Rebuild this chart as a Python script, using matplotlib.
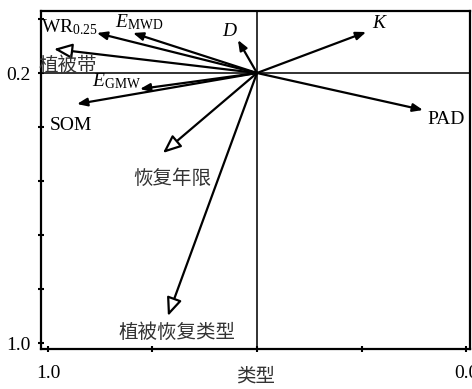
# CCA-style biplot: soil aggregate indices vs. restoration factors

import matplotlib
matplotlib.use('Agg')
import matplotlib.pyplot as plt

plt.rcParams['font.family'] = ['Liberation Serif', 'Noto Sans CJK SC']
plt.rcParams['mathtext.fontset'] = 'custom'
plt.rcParams['mathtext.rm'] = 'Liberation Serif'
plt.rcParams['mathtext.it'] = 'Liberation Serif:italic'

# --- Data: arrow end points (axis 1, axis 2) ---
var_labels = [r'WR$_{\rm 0.25}$', r'$E_{\rm MWD}$', r'$D$', r'$K$',
              r'$E_{\rm GMW}$', 'SOM', 'PAD']
var_x = [-0.766, -0.593, -0.091, 0.522, -0.560, -0.861, 0.794]
var_y = [0.741, 0.741, 0.611, 0.759, -0.296, -0.574, -0.685]

env_labels = ['植被带', '恢复年限', '植被恢复类型']
env_x = [-0.971, -0.450, -0.426]
env_y = [0.444, -1.481, -4.500]

ytick_vals = [1, 0, -1, -2, -3, -4, -5]
ytick_text = ['', '0.2', '', '', '', '', '1.0']
xtick_vals = [-1, -0.5, 0, 0.5, 1]
xtick_text = ['1.0', '', '', '', '0.0']
x_title = '类型'

# label offsets from arrow tip, in pixels (layout only)
var_offsets = [(-27, 6), (6, 11), (-8, 9), (14, 9), (-23, 8), (-6, -21), (23, -10)]
env_offsets = [(14, -17), (9, -26), (9, -17)]

fig = plt.figure(figsize=(4.72, 3.89), dpi=100)
ax = fig.add_axes([0.0869, 0.1028, 0.9089, 0.8689])

ax.set_xlim(-1.033, 1.019)
ax.set_ylim(-5.111, 1.148)

ax.axhline(0, color='#222222', lw=1.3, zorder=1)
ax.axvline(0, color='#222222', lw=1.3, zorder=1)

# response variables: filled arrow heads
for lab, x, y, off in zip(var_labels, var_x, var_y, var_offsets):
    ax.annotate('', xy=(x, y), xytext=(0, 0),
                arrowprops=dict(arrowstyle='-|>,head_length=6,head_width=2.4',
                                mutation_scale=1, color='black', lw=1.6,
                                shrinkA=0, shrinkB=0), zorder=3)
    ax.annotate(lab, xy=(x, y), xytext=off, textcoords='offset pixels',
                ha='center', va='center', fontsize=14, color='black')

# explanatory factors: hollow arrow heads
for lab, x, y, off in zip(env_labels, env_x, env_y, env_offsets):
    ax.annotate('', xy=(x, y), xytext=(0, 0),
                arrowprops=dict(arrowstyle='-|>,head_length=11,head_width=4.6',
                                mutation_scale=1, facecolor='white',
                                edgecolor='black', lw=1.6,
                                shrinkA=0, shrinkB=0), zorder=3)
    ax.annotate(lab, xy=(x, y), xytext=off, textcoords='offset pixels',
                ha='center', va='center', fontsize=14, color='#333333')

ax.set_xticks(xtick_vals)
ax.set_xticklabels(xtick_text, fontsize=14)
ax.set_yticks(ytick_vals)
ax.set_yticklabels(ytick_text, fontsize=14)
ax.tick_params(axis='both', direction='inout', length=5, width=1.5)
ax.tick_params(axis='x', pad=9)
ax.tick_params(axis='y', pad=5)

ax.set_xlabel(x_title, fontsize=14, color='#333333')
ax.xaxis.set_label_coords(0.5, -0.055)
ax.xaxis.label.set_va('top')

for s in ax.spines.values():
    s.set_linewidth(1.6)

plt.savefig('out.png', dpi=100)
